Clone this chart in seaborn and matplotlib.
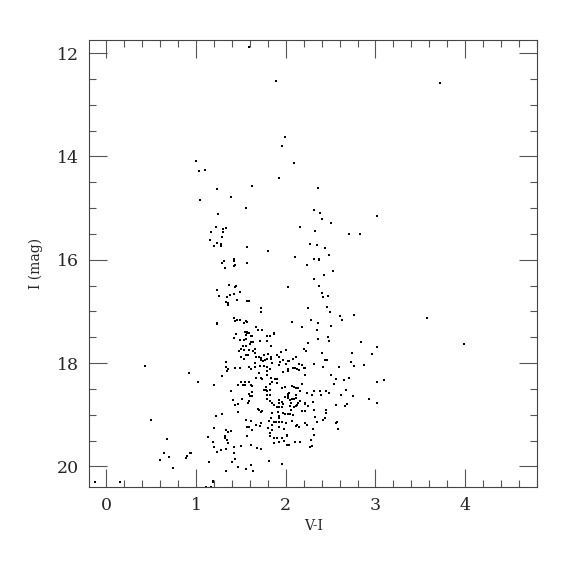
import numpy as np
import pandas as pd
import matplotlib
matplotlib.use("Agg")
import matplotlib.pyplot as plt
from matplotlib.ticker import MultipleLocator
import seaborn as sns

# colour V-I and magnitude I read off the reference, grouped roughly by region
vi_top = [1.59, 1.89, 1.99, 1.96, 2.09, 3.72, 3.57, 3.99]
i_top = [11.88, 12.53, 13.63, 13.80, 14.12, 12.57, 17.13, 17.64]

vi_blue_upper = [1.00, 1.03, 1.10, 1.92, 1.63, 1.24, 1.39, 1.05, 1.56, 1.25, 1.22, 1.30,
                 1.34, 1.17, 1.30, 1.29, 1.16, 1.24, 1.28, 1.28, 1.20, 1.57, 1.80, 1.42]
i_blue_upper = [14.08, 14.29, 14.26, 14.41, 14.57, 14.63, 14.79, 14.85, 14.99, 15.12, 15.37, 15.41,
                15.39, 15.46, 15.47, 15.56, 15.61, 15.68, 15.70, 15.74, 15.74, 15.76, 15.83, 15.99]

vi_red_upper = [2.36, 2.32, 2.38, 2.40, 2.50, 3.02, 2.16, 2.33, 2.71, 2.83, 2.27, 2.35,
                2.44, 2.48, 2.10, 2.32, 2.37]
i_red_upper = [14.61, 15.03, 15.10, 15.22, 15.29, 15.16, 15.36, 15.45, 15.51, 15.51, 15.69, 15.72,
               15.77, 15.90, 15.95, 15.98, 15.99]

vi_mid_left = [1.29, 1.31, 1.42, 1.42, 1.44, 1.32, 1.57, 1.37, 1.45, 1.43, 1.23, 1.42, 1.49, 1.38,
               1.26, 1.35, 1.57, 1.59, 1.33, 1.36, 1.36, 1.46, 1.73, 1.72, 1.23, 1.24, 1.42, 1.43,
               1.46, 1.49, 1.56, 1.57, 1.53, 1.67, 1.69, 1.74, 1.55, 1.57, 1.59, 1.57, 1.45, 1.56,
               1.61, 1.62, 1.79, 1.82, 1.87, 1.87, 1.42, 1.56, 1.54, 1.49, 1.64, 1.61, 1.71, 1.79,
               1.52, 1.56, 1.60, 1.84, 1.50, 1.53, 1.59, 1.66, 1.64, 1.48, 1.66, 1.56, 1.58, 1.70,
               1.76, 1.80, 1.67, 1.50, 1.54, 1.72, 1.73, 1.77, 1.79, 1.84, 1.84, 1.34, 1.75, 1.90,
               1.92, 1.66, 1.85, 1.49, 1.59, 1.66, 1.71, 1.76, 1.79, 1.33, 1.43, 1.36, 1.61, 1.82,
               1.93]
i_mid_left = [16.07, 16.02, 16.02, 16.12, 16.10, 16.15, 16.06, 16.48, 16.50, 16.52, 16.58, 16.67,
              16.63, 16.69, 16.70, 16.72, 16.79, 16.79, 16.81, 16.84, 16.87, 16.78, 16.93, 17.01,
              17.23, 17.25, 17.12, 17.19, 17.16, 17.17, 17.18, 17.21, 17.22, 17.30, 17.36, 17.36,
              17.39, 17.39, 17.42, 17.42, 17.44, 17.46, 17.48, 17.48, 17.48, 17.47, 17.42, 17.44,
              17.51, 17.53, 17.55, 17.56, 17.59, 17.59, 17.58, 17.58, 17.66, 17.67, 17.64, 17.67,
              17.73, 17.75, 17.75, 17.73, 17.76, 17.76, 17.80, 17.85, 17.84, 17.88, 17.84, 17.83,
              17.88, 17.89, 17.92, 17.90, 17.95, 17.94, 17.92, 17.88, 17.92, 17.97, 17.96, 17.84,
              17.88, 18.00, 18.00, 18.09, 18.08, 18.08, 18.06, 18.06, 18.07, 18.07, 18.10, 18.12,
              18.12, 18.11, 18.04]

vi_mid_right = [2.24, 2.37, 2.53, 2.43, 2.31, 2.02, 2.37, 2.40, 2.47, 2.42, 2.46, 2.25, 2.49,
                2.60, 2.76, 2.63, 2.07, 2.28, 2.36, 2.18, 2.50, 2.35, 2.47, 2.36, 2.48, 2.25,
                2.84, 3.02, 1.95, 2.00, 2.20, 2.23, 2.40, 2.74, 2.96, 1.97, 2.02, 2.04, 2.11,
                2.08, 1.94, 2.00, 2.15, 2.18, 2.31, 2.44, 2.46, 2.73, 2.76, 2.87, 2.42, 2.59,
                2.08, 2.10, 2.13, 2.20, 2.22, 2.02]
i_mid_right = [16.10, 16.01, 16.22, 16.29, 16.37, 16.53, 16.51, 16.64, 16.70, 16.72, 16.91, 16.94,
               17.02, 17.08, 17.06, 17.17, 17.21, 17.17, 17.22, 17.31, 17.28, 17.36, 17.50, 17.54,
               17.57, 17.61, 17.59, 17.68, 17.78, 17.75, 17.73, 17.77, 17.81, 17.80, 17.83, 17.94,
               17.96, 17.96, 17.89, 17.93, 17.97, 18.01, 18.01, 18.04, 18.01, 17.94, 17.94, 17.98,
               18.06, 18.04, 18.07, 18.08, 18.09, 18.10, 18.12, 18.09, 18.10, 18.12]

vi_low_left = [0.92, 1.02, 1.20, 1.29, 1.35, 1.39, 1.47, 1.50, 1.55, 1.59, 1.61, 1.62, 1.55, 1.52,
               1.59, 1.62, 1.60, 1.63, 1.67, 1.70, 1.72, 1.74, 1.79, 1.79, 1.84, 1.85, 1.88, 1.90,
               1.90, 1.83, 1.78, 1.76, 1.78, 1.82, 1.79, 1.79, 1.83, 1.79, 1.82, 1.85, 1.87, 1.90,
               1.93, 1.92, 1.92, 1.41, 1.44, 1.47, 1.51, 1.59, 1.58, 1.47, 1.69, 1.70, 1.72, 1.74,
               1.85, 1.91, 1.93, 1.92, 1.84, 1.87, 1.89, 1.92, 1.81, 1.93, 1.85, 1.67, 1.71, 1.72,
               1.80, 1.85, 1.83, 1.82, 1.87, 1.90, 1.87, 1.93, 1.56, 1.57, 1.59, 1.61, 1.57, 1.63,
               1.22, 1.29, 1.20, 1.34, 1.36, 1.39, 1.13, 1.32, 1.32, 1.35, 1.36, 1.19, 1.20, 1.23,
               1.28, 1.33, 1.42, 1.50, 1.61, 1.68, 1.73, 1.42, 1.44, 1.40, 1.61, 1.56, 1.64, 1.47,
               1.34, 1.81, 1.14, 0.90, 0.89, 0.93, 0.95, 0.74, 1.19, 1.19, 1.11, 1.17]
i_low_left = [18.20, 18.36, 18.43, 18.25, 18.15, 18.55, 18.43, 18.37, 18.37, 18.37, 18.42, 18.44,
              18.43, 18.43, 18.59, 18.56, 18.64, 18.63, 18.28, 18.19, 18.29, 18.30, 18.15, 18.23,
              18.28, 18.36, 18.30, 18.30, 18.38, 18.41, 18.46, 18.52, 18.52, 18.52, 18.55, 18.62,
              18.62, 18.70, 18.73, 18.78, 18.82, 18.85, 18.86, 18.72, 18.78, 18.72, 18.82, 18.80,
              18.69, 18.73, 18.77, 18.95, 18.88, 18.90, 18.95, 18.93, 18.96, 18.95, 19.03, 19.06,
              19.07, 19.14, 19.14, 19.14, 19.13, 19.24, 19.20, 19.19, 19.21, 19.17, 19.26, 19.30,
              19.36, 19.41, 19.45, 19.46, 19.55, 19.52, 19.10, 19.23, 19.23, 19.12, 19.41, 19.30,
              19.03, 18.99, 19.26, 19.30, 19.34, 19.32, 19.43, 19.41, 19.46, 19.49, 19.55, 19.52,
              19.63, 19.72, 19.68, 19.66, 19.63, 19.61, 19.58, 19.64, 19.66, 19.74, 19.86, 19.92,
              19.97, 20.06, 20.09, 20.02, 20.09, 19.90, 19.92, 19.80, 19.84, 19.75, 19.75, 20.03,
              20.28, 20.30, 20.39, 20.40]

vi_low_right = [1.97, 2.02, 2.22, 2.15, 2.51, 2.56, 2.65, 2.70, 2.54, 3.02, 3.09, 1.96, 1.99, 2.07,
                2.09, 2.11, 2.14, 2.18, 2.04, 2.03, 1.99, 2.02, 2.12, 2.16, 2.24, 2.31, 2.29, 2.38,
                2.39, 2.45, 2.48, 2.62, 2.67, 2.75, 2.93, 3.02, 1.96, 1.97, 1.96, 2.03, 2.05, 2.07,
                2.09, 2.11, 2.06, 2.14, 2.13, 2.16, 2.21, 2.25, 2.22, 2.30, 2.68, 2.66, 2.56, 1.97,
                1.99, 2.02, 2.05, 2.08, 2.06, 2.09, 2.11, 2.05, 2.18, 2.21, 2.32, 2.45, 2.45, 2.33,
                2.41, 2.44, 2.35, 2.57, 2.56, 1.96, 2.00, 2.07, 2.12, 2.15, 2.13, 2.22, 2.24, 1.98,
                2.30, 2.58, 2.01, 2.01, 2.31, 1.96, 1.98, 2.10, 2.16, 2.28, 2.01, 2.04, 2.27, 2.29,
                1.96]
i_low_right = [18.18, 18.15, 18.23, 18.14, 18.24, 18.31, 18.33, 18.28, 18.41, 18.36, 18.32, 18.49,
               18.47, 18.44, 18.47, 18.49, 18.49, 18.41, 18.57, 18.60, 18.65, 18.64, 18.61, 18.55,
               18.57, 18.55, 18.61, 18.55, 18.61, 18.54, 18.57, 18.61, 18.53, 18.64, 18.70, 18.78,
               18.75, 18.80, 18.86, 18.68, 18.72, 18.70, 18.70, 18.68, 18.77, 18.77, 18.81, 18.73,
               18.80, 18.83, 18.78, 18.75, 18.79, 18.83, 18.82, 18.97, 18.99, 18.99, 18.99, 19.01,
               18.91, 18.86, 18.84, 18.83, 18.93, 18.93, 18.90, 18.91, 18.96, 19.04, 19.10, 19.07,
               19.15, 19.14, 19.17, 19.15, 19.17, 19.12, 19.21, 19.23, 19.20, 19.17, 19.19, 19.28,
               19.28, 19.28, 19.39, 19.41, 19.39, 19.46, 19.50, 19.52, 19.52, 19.48, 19.59, 19.59,
               19.62, 19.61, 19.95]

vi_faint_blue = [0.43, 0.50, 0.68, 0.64, 0.70, 0.60, -0.12, 0.15]
i_faint_blue = [18.06, 19.10, 19.47, 19.74, 19.82, 19.88, 20.31, 20.30]

vi = (vi_top + vi_blue_upper + vi_red_upper + vi_mid_left + vi_mid_right
      + vi_low_left + vi_low_right + vi_faint_blue)
imag = (i_top + i_blue_upper + i_red_upper + i_mid_left + i_mid_right
        + i_low_left + i_low_right + i_faint_blue)
df = pd.DataFrame({"V-I": vi, "I": imag})

sns.set_style("ticks")
plt.rcParams["font.family"] = ["DejaVu Serif"]

fig = plt.figure(figsize=(5.75, 5.75), dpi=100)
ax = fig.add_axes([0.155, 0.153, 0.779, 0.777])

sns.scatterplot(data=df, x="V-I", y="I", marker="s", s=3, color="black",
                linewidth=0, ax=ax)

ax.set_xlim(-0.19, 4.8)
ax.set_ylim(20.4, 11.75)
ax.xaxis.set_major_locator(MultipleLocator(1))
ax.xaxis.set_minor_locator(MultipleLocator(0.2))
ax.yaxis.set_major_locator(MultipleLocator(2))
ax.yaxis.set_minor_locator(MultipleLocator(0.5))
ax.tick_params(which="both", direction="in", top=True, right=True, color="#555555",
               width=0.8, labelsize=12.5, pad=7)
ax.tick_params(which="major", length=13)
ax.tick_params(which="minor", length=5)
for sp in ax.spines.values():
    sp.set_linewidth(0.8)
    sp.set_color("#444444")

ax.set_xlabel("V-I", fontsize=10)
ax.set_ylabel("I (mag)", fontsize=10, labelpad=10)

fig.savefig("out.png", dpi=100)
